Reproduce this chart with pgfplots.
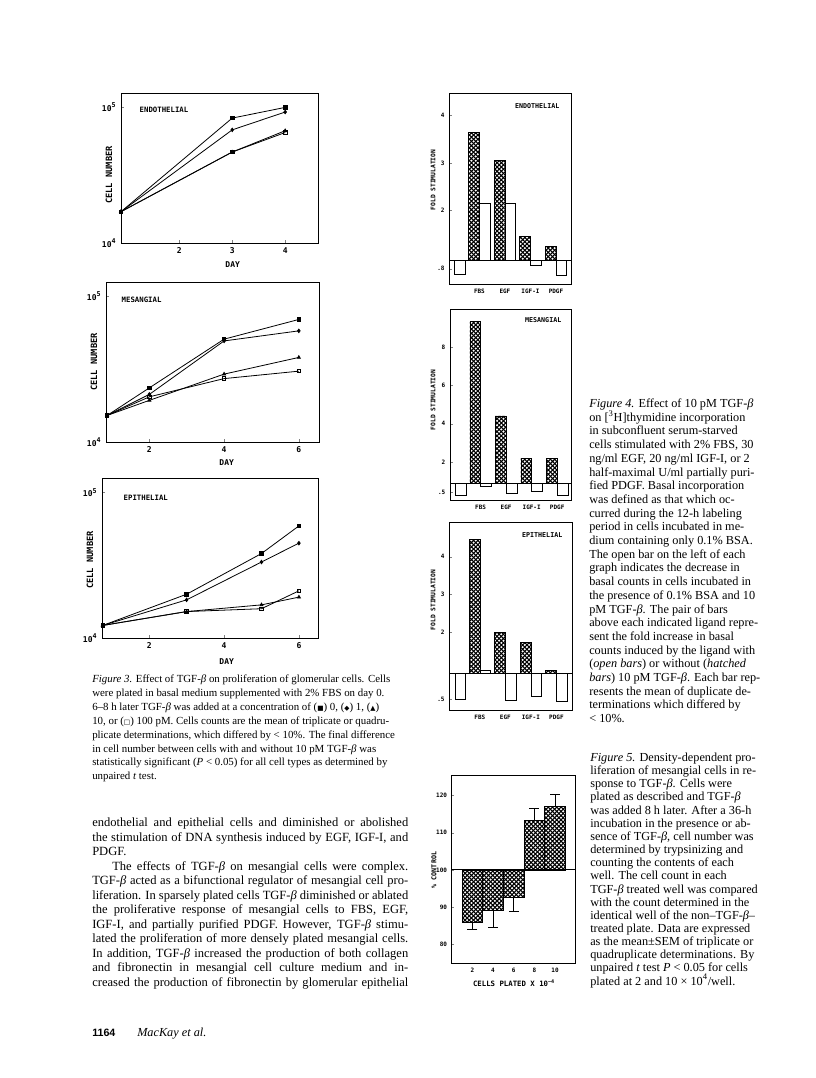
\documentclass[border=0pt]{standalone}
\usepackage{pgfplots}
\pgfplotsset{compat=1.18}
\pgfplotsset{/pgf/number format/assume math mode=true}
\usepackage{fontspec}
\setmainfont{Liberation Serif}
\newfontfamily\plotfont{DejaVu Sans Mono}
\newfontfamily\symfont{DejaVu Sans}
\newfontfamily\headfont{Liberation Sans}
\usetikzlibrary{patterns}
\pgfdeclarepatternformonly{xhatch}{\pgfqpoint{-0.5pt}{-0.5pt}}{\pgfqpoint{3.7pt}{3.7pt}}{\pgfqpoint{3.2pt}{3.2pt}}{%
  \pgfsetlinewidth{0.8pt}%
  \pgfpathmoveto{\pgfqpoint{0pt}{0pt}}\pgfpathlineto{\pgfqpoint{3.2pt}{3.2pt}}%
  \pgfpathmoveto{\pgfqpoint{0pt}{3.2pt}}\pgfpathlineto{\pgfqpoint{3.2pt}{0pt}}%
  \pgfusepath{stroke}}
\newcommand{\PF}{\plotfont\bfseries}
\newcommand{\B}{\textit{β}}
\newcommand{\capfont}{\fontsize{8.15}{9.5}\selectfont}
\newcommand{\sidefont}{\fontsize{9.2}{10}\selectfont}
\newcommand{\bodyfont}{\fontsize{9.4}{11}\selectfont}
\newcommand{\JL}[4]{\node[anchor=base west,inner sep=0pt] at (#1,#2+2.5) {\makebox[#3][s]{#4}};}
\newcommand{\LL}[3]{\node[anchor=base west,inner sep=0pt] at (#1,#2+2.5) {#3};}
\begin{document}
\begin{tikzpicture}
\path[use as bounding box, fill=white] (0pt,0pt) rectangle (612pt,-808.5pt);

%================ Figure 3: line charts ================
\begin{axis}[at={(90.75pt,-69.75pt)}, anchor=north west, scale only axis, width=147.75pt, height=112.5pt,
  ymode=log, ymin=1e4, ymax=1.27e5, xmin=0.9, xmax=4.62, xtick={2,3,4},
  ytick={1e4,1e5}, yticklabels={10\textsuperscript{4},10\textsuperscript{5}},
  yminorticks=false, tick align=inside, major tick length=2pt,
  xtick pos=left, ytick pos=left, axis line style={line width=0.6pt},
  ticklabel style={font=\PF\fontsize{6}{6.5}\selectfont}]
\addplot[black, line width=0.6pt, mark size=1.3pt, mark=square*] coordinates {(0.9,1.7e4)(3,8.3e4)(4,9.95e4)};
\addplot[black, line width=0.6pt, mark size=1.3pt, mark=diamond*] coordinates {(0.9,1.7e4)(3,6.8e4)(4,9.2e4)};
\addplot[black, line width=0.6pt, mark size=1.3pt, mark=triangle*] coordinates {(0.9,1.7e4)(3,4.67e4)(4,6.7e4)};
\addplot[black, line width=0.6pt, mark size=1.3pt, mark=square, mark options={fill=white}] coordinates {(0.9,1.7e4)(3,4.67e4)(4,6.5e4)};
\end{axis}

\begin{axis}[at={(79.5pt,-211.5pt)}, anchor=north west, scale only axis, width=159.75pt, height=120pt,
  ymode=log, ymin=1e4, ymax=1.25e5, xmin=0.84, xmax=6.54, xtick={2,4,6},
  ytick={1e4,1e5}, yticklabels={10\textsuperscript{4},10\textsuperscript{5}},
  yminorticks=false, tick align=inside, major tick length=2pt,
  xtick pos=left, ytick pos=left, axis line style={line width=0.6pt},
  ticklabel style={font=\PF\fontsize{6}{6.5}\selectfont}]
\addplot[black, line width=0.6pt, mark size=1.3pt, mark=square*] coordinates {(0.87,1.52e4)(2,2.35e4)(4,5.07e4)(6,6.92e4)};
\addplot[black, line width=0.6pt, mark size=1.3pt, mark=diamond*] coordinates {(0.87,1.52e4)(2,2.12e4)(4,4.93e4)(6,5.78e4)};
\addplot[black, line width=0.6pt, mark size=1.3pt, mark=triangle*] coordinates {(0.87,1.52e4)(2,1.93e4)(4,2.92e4)(6,3.8e4)};
\addplot[black, line width=0.6pt, mark size=1.3pt, mark=square, mark options={fill=white}] coordinates {(0.87,1.52e4)(2,2.04e4)(4,2.72e4)(6,3.06e4)};
\end{axis}

\begin{axis}[at={(76.5pt,-358.5pt)}, anchor=north west, scale only axis, width=162pt, height=120pt,
  ymode=log, ymin=1e4, ymax=1.26e5, xmin=0.74, xmax=6.51, xtick={2,4,6},
  ytick={1e4,1e5}, yticklabels={10\textsuperscript{4},10\textsuperscript{5}},
  yminorticks=false, tick align=inside, major tick length=2pt,
  xtick pos=left, ytick pos=left, axis line style={line width=0.6pt},
  ticklabel style={font=\PF\fontsize{6}{6.5}\selectfont}]
\addplot[black, line width=0.6pt, mark size=1.3pt, mark=square*] coordinates {(0.76,1.22e4)(3,2.0e4)(5,3.81e4)(6,5.9e4)};
\addplot[black, line width=0.6pt, mark size=1.3pt, mark=diamond*] coordinates {(0.76,1.22e4)(3,1.83e4)(5,3.33e4)(6,4.49e4)};
\addplot[black, line width=0.6pt, mark size=1.3pt, mark=triangle*] coordinates {(0.76,1.22e4)(3,1.52e4)(5,1.69e4)(6,1.91e4)};
\addplot[black, line width=0.6pt, mark size=1.3pt, mark=square, mark options={fill=white}] coordinates {(0.76,1.22e4)(3,1.52e4)(5,1.59e4)(6,2.11e4)};
\end{axis}

%================ Figure 4: bar charts ================
\begin{axis}[at={(336.975pt,-69.975pt)}, anchor=north west, scale only axis, width=91.3pt, height=143pt,
  tick align=inside, major tick length=2pt, xtick style={draw=none}, ytick pos=left,
  axis line style={line width=0.6pt}, ticklabel style={font=\PF\fontsize{4.5}{5}\selectfont},
  xmin=0.03, xmax=4.80, ymin=-0.50, ymax=3.52,
  ytick={-0.18,1.06,2.05,3.06}, yticklabels={.8,2,3,4},
  xtick={1.21,2.21,3.21,4.21}, xticklabels={FBS,EGF,IGF-I,PDGF}]
\addplot[ybar, bar width=0.42, bar shift=0pt, draw=black, line width=0.5pt, fill=white] coordinates {(0.44,-0.29)};
\addplot[ybar, bar width=0.42, bar shift=0pt, draw=black, line width=0.5pt, pattern=xhatch] coordinates {(1,2.69)(2,2.10)(3,0.50)(4,0.29)};
\addplot[ybar, bar width=0.42, bar shift=0pt, draw=black, line width=0.5pt, fill=white] coordinates {(1.42,1.20)(2.42,1.20)(3.42,-0.11)(4.42,-0.31)};
\addplot[black, line width=0.6pt] coordinates {(0.03,0)(4.80,0)};
\end{axis}

\begin{axis}[at={(337.5pt,-231.975pt)}, anchor=north west, scale only axis, width=91.3pt, height=143pt,
  tick align=inside, major tick length=2pt, xtick style={draw=none}, ytick pos=left,
  axis line style={line width=0.6pt}, ticklabel style={font=\PF\fontsize{4.5}{5}\selectfont},
  xmin=0.01, xmax=4.78, ymin=-0.87, ymax=9.04,
  ytick={-0.45,1.09,3.09,5.09,7.09}, yticklabels={.5,2,4,6,8},
  xtick={1.21,2.21,3.21,4.21}, xticklabels={FBS,EGF,IGF-I,PDGF}]
\addplot[ybar, bar width=0.42, bar shift=0pt, draw=black, line width=0.5pt, fill=white] coordinates {(0.44,-0.61)};
\addplot[ybar, bar width=0.42, bar shift=0pt, draw=black, line width=0.5pt, pattern=xhatch] coordinates {(1,8.39)(2,3.50)(3,1.30)(4,1.30)};
\addplot[ybar, bar width=0.42, bar shift=0pt, draw=black, line width=0.5pt, fill=white] coordinates {(1.42,-0.18)(2.42,-0.52)(3.42,-0.44)(4.42,-0.61)};
\addplot[black, line width=0.6pt] coordinates {(0.01,0)(4.78,0)};
\end{axis}

\begin{axis}[at={(336.975pt,-392.025pt)}, anchor=north west, scale only axis, width=92.55pt, height=140.5pt,
  tick align=inside, major tick length=2pt, xtick style={draw=none}, ytick pos=left,
  axis line style={line width=0.6pt}, ticklabel style={font=\PF\fontsize{4.5}{5}\selectfont},
  xmin=0.01, xmax=4.85, ymin=-0.97, ymax=3.98,
  ytick={-0.68,1.08,2.09,3.08}, yticklabels={.5,2,3,4},
  xtick={1.21,2.21,3.21,4.21}, xticklabels={FBS,EGF,IGF-I,PDGF}]
\addplot[ybar, bar width=0.42, bar shift=0pt, draw=black, line width=0.5pt, fill=white] coordinates {(0.44,-0.69)};
\addplot[ybar, bar width=0.42, bar shift=0pt, draw=black, line width=0.5pt, pattern=xhatch] coordinates {(1,3.53)(2,1.08)(3,0.82)(4,0.07)};
\addplot[ybar, bar width=0.42, bar shift=0pt, draw=black, line width=0.5pt, fill=white] coordinates {(1.42,0.09)(2.42,-0.71)(3.42,-0.62)(4.42,-0.73)};
\addplot[black, line width=0.6pt] coordinates {(0.01,0)(4.85,0)};
\end{axis}

%================ Figure 5 ================
\begin{axis}[at={(338.775pt,-581.25pt)}, anchor=north west, scale only axis, width=93pt, height=141.2pt,
  tick align=inside, major tick length=2pt, xtick style={draw=none}, ytick pos=left,
  axis line style={line width=0.6pt}, ticklabel style={font=\PF\fontsize{4.5}{5}\selectfont},
  xmin=0, xmax=12, ymin=-25.1, ymax=25.5,
  xtick={2,4,6,8,10}, ytick={-20,-10,0,10,20}, yticklabels={80,90,100,110,120}]
\addplot[ybar, bar width=2, bar shift=0pt, draw=black, line width=0.5pt, pattern=xhatch,
  error bars/.cd, y dir=minus, y explicit, error mark=-,
  error mark options={rotate=90, black, mark size=3.7pt, line width=0.7pt},
  error bar style={line width=0.7pt}]
  coordinates {(2,-14.2) +- (0,1.9) (4,-10.9) +- (0,4.6) (6,-7.4) +- (0,3.7)};
\addplot[ybar, bar width=2, bar shift=0pt, draw=black, line width=0.5pt, pattern=xhatch,
  error bars/.cd, y dir=plus, y explicit, error mark=-,
  error mark options={rotate=90, black, mark size=3.7pt, line width=0.7pt},
  error bar style={line width=0.7pt}]
  coordinates {(8,13.4) +- (0,3.0) (10,17.0) +- (0,3.4)};
\addplot[black, line width=0.6pt] coordinates {(0,0)(12,0)};
\end{axis}

\begin{scope}[x=0.75pt,y=-0.75pt]
% chart labels
\node[anchor=west, font=\PF\fontsize{5.5}{6}\selectfont] at (135,110) {ENDOTHELIAL};
\node[rotate=90, font=\PF\fontsize{6.5}{7}\selectfont] at (109,175) {CELL NUMBER};
\node[font=\PF\fontsize{6}{6.5}\selectfont] at (232.7,265) {DAY};
\node[anchor=west, font=\PF\fontsize{5.5}{6}\selectfont] at (117,300) {MESANGIAL};
\node[rotate=90, font=\PF\fontsize{6.5}{7}\selectfont] at (94,362) {CELL NUMBER};
\node[font=\PF\fontsize{6}{6.5}\selectfont] at (226.7,462.5) {DAY};
\node[anchor=west, font=\PF\fontsize{5.5}{6}\selectfont] at (119,498) {EPITHELIAL};
\node[rotate=90, font=\PF\fontsize{6.5}{7}\selectfont] at (90,560) {CELL NUMBER};
\node[font=\PF\fontsize{6}{6.5}\selectfont] at (226.7,661.5) {DAY};
\node[anchor=east, font=\PF\fontsize{5}{6}\selectfont] at (564,106) {ENDOTHELIAL};
\node[rotate=90, font=\PF\fontsize{4.7}{6}\selectfont] at (433,180) {FOLD STIMULATION};
\node[anchor=east, font=\PF\fontsize{5}{6}\selectfont] at (566,320) {MESANGIAL};
\node[rotate=90, font=\PF\fontsize{4.7}{6}\selectfont] at (433,400) {FOLD STIMULATION};
\node[anchor=east, font=\PF\fontsize{5}{6}\selectfont] at (567,535) {EPITHELIAL};
\node[rotate=90, font=\PF\fontsize{4.7}{6}\selectfont] at (433,600) {FOLD STIMULATION};
\node[rotate=90, font=\PF\fontsize{5}{6}\selectfont] at (434,870) {\% CONTROL};
\node[font=\PF\fontsize{5.5}{6}\selectfont] at (514,983) {CELLS PLATED X 10\textsuperscript{−4}};

%================ Figure 3 caption ================
\begin{scope}[font=\capfont]
\LL{92}{680}{\textit{Figure 3.} Effect of TGF-\B{} on proliferation of glomerular cells. Cells}
\LL{92}{693.9}{were plated in basal medium supplemented with 2\% FBS on day 0.}
\LL{92}{707.8}{6–8 h later TGF-\B{} was added at a concentration of ({\symfont\tiny ■}) 0, ({\symfont\tiny ◆}) 1, ({\symfont\tiny ▲})}
\LL{92}{721.7}{10, or ({\symfont\tiny □}) 100 pM. Cells counts are the mean of triplicate or quadru-}
\LL{92}{735.6}{plicate determinations, which differed by < 10\%. The final difference}
\LL{92}{749.5}{in cell number between cells with and without 10 pM TGF-\B{} was}
\LL{92}{763.4}{statistically significant (\textit{P} < 0.05) for all cell types as determined by}
\LL{92}{777.3}{unpaired \textit{t} test.}
\end{scope}

%================ Body text ================
\begin{scope}[font=\bodyfont]
\JL{92}{824}{237pt}{endothelial and epithelial cells and diminished or abolished}
\JL{92}{838.5}{237pt}{the stimulation of DNA synthesis induced by EGF, IGF-I, and}
\LL{92}{853}{PDGF.}
\JL{112}{867.5}{222pt}{The effects of TGF-\B{} on mesangial cells were complex.}
\JL{92}{882}{237pt}{TGF-\B{} acted as a bifunctional regulator of mesangial cell pro-}
\JL{92}{896.5}{237pt}{liferation. In sparsely plated cells TGF-\B{} diminished or ablated}
\JL{92}{911}{237pt}{the proliferative response of mesangial cells to FBS, EGF,}
\JL{92}{925.5}{237pt}{IGF-I, and partially purified PDGF. However, TGF-\B{} stimu-}
\JL{92}{940}{237pt}{lated the proliferation of more densely plated mesangial cells.}
\JL{92}{954.5}{237pt}{In addition, TGF-\B{} increased the production of both collagen}
\JL{92}{969}{237pt}{and fibronectin in mesangial cell culture medium and in-}
\JL{92}{983.5}{237pt}{creased the production of fibronectin by glomerular epithelial}
\end{scope}
\node[anchor=base west, inner sep=0pt, font=\headfont\bfseries\fontsize{8}{9}\selectfont] at (92,1036) {1164};
\node[anchor=base west, inner sep=0pt, font=\fontsize{9.2}{11}\selectfont\itshape] at (137,1036) {MacKay et al.};

%================ Figure 4 caption ================
\begin{scope}[font=\sidefont]
\LL{589}{405}{\textit{Figure 4.} Effect of 10 pM TGF-\B}
\LL{589}{418.7}{on [\textsuperscript{3}H]thymidine incorporation}
\LL{589}{432.4}{in subconfluent serum-starved}
\LL{589}{446.1}{cells stimulated with 2\% FBS, 30}
\LL{589}{459.8}{ng/ml EGF, 20 ng/ml IGF-I, or 2}
\LL{589}{473.5}{half-maximal U/ml partially puri-}
\LL{589}{487.2}{fied PDGF. Basal incorporation}
\LL{589}{500.9}{was defined as that which oc-}
\LL{589}{514.6}{curred during the 12-h labeling}
\LL{589}{528.3}{period in cells incubated in me-}
\LL{589}{542.0}{dium containing only 0.1\% BSA.}
\LL{589}{555.7}{The open bar on the left of each}
\LL{589}{569.4}{graph indicates the decrease in}
\LL{589}{583.1}{basal counts in cells incubated in}
\LL{589}{596.8}{the presence of 0.1\% BSA and 10}
\LL{589}{610.5}{pM TGF-\B. The pair of bars}
\LL{589}{624.2}{above each indicated ligand repre-}
\LL{589}{637.9}{sent the fold increase in basal}
\LL{589}{651.6}{counts induced by the ligand with}
\LL{589}{665.3}{(\textit{open bars}) or without (\textit{hatched}}
\LL{589}{679.0}{\textit{bars}) 10 pM TGF-\B. Each bar rep-}
\LL{589}{692.7}{resents the mean of duplicate de-}
\LL{589}{706.4}{terminations which differed by}
\LL{589}{720.1}{< 10\%.}
\end{scope}

%================ Figure 5 caption ================
\begin{scope}[font=\sidefont]
\LL{590}{759}{\textit{Figure 5.} Density-dependent pro-}
\LL{590}{772.15}{liferation of mesangial cells in re-}
\LL{590}{785.3}{sponse to TGF-\B. Cells were}
\LL{590}{798.45}{plated as described and TGF-\B}
\LL{590}{811.6}{was added 8 h later. After a 36-h}
\LL{590}{824.75}{incubation in the presence or ab-}
\LL{590}{837.9}{sence of TGF-\B, cell number was}
\LL{590}{851.05}{determined by trypsinizing and}
\LL{590}{864.2}{counting the contents of each}
\LL{590}{877.35}{well. The cell count in each}
\LL{590}{890.5}{TGF-\B{} treated well was compared}
\LL{590}{903.65}{with the count determined in the}
\LL{590}{916.8}{identical well of the non–TGF-\B–}
\LL{590}{929.95}{treated plate. Data are expressed}
\LL{590}{943.1}{as the mean±SEM of triplicate or}
\LL{590}{956.25}{quadruplicate determinations. By}
\LL{590}{969.4}{unpaired \textit{t} test \textit{P} < 0.05 for cells}
\LL{590}{982.55}{plated at 2 and 10 × 10\textsuperscript{4}/well.}
\end{scope}
\end{scope}
\end{tikzpicture}
\end{document}
